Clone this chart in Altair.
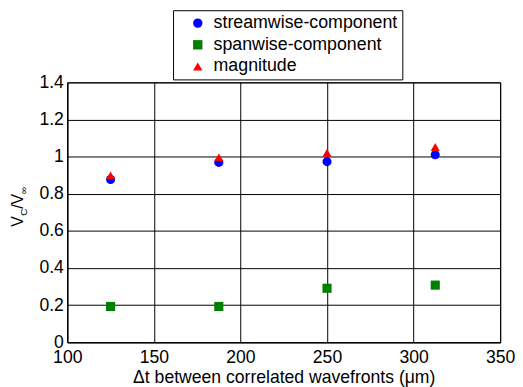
import altair as alt
import pandas as pd

# ---- data ----
series = ["streamwise-component", "spanwise-component", "magnitude"]
colors = ["#0000ff", "#008000", "#ff0000"]
shapes = ["circle", "square", "triangle-up"]
x_vals = [125, 187.5, 250, 312.5]
streamwise = [0.877, 0.969, 0.973, 1.010]
spanwise = [0.193, 0.193, 0.291, 0.308]
magnitude = [0.898, 0.996, 1.021, 1.052]
x_ticks = [100, 150, 200, 250, 300, 350]
y_ticks = [0, 0.2, 0.4, 0.6, 0.8, 1.0, 1.2, 1.4]
x_title = "Δt between correlated wavefronts (μm)"

FONT = "Liberation Sans"
FS = 17.8

rows = []
for name, vals in zip(series, [streamwise, spanwise, magnitude]):
    for xv, yv in zip(x_vals, vals):
        rows.append({"x": xv, "v": yv, "series": name})
df = pd.DataFrame(rows)

legend = alt.Legend(
    title=None, orient="none", legendX=107, legendY=-73,
    padding=4, strokeColor="black", fillColor="white",
    labelFont=FONT, labelFontSize=18, labelColor="black", labelLimit=0,
    symbolSize=90, symbolStrokeWidth=0, symbolOffset=12,
    labelOffset=7, rowPadding=4,
)

points = alt.Chart(df).mark_point(filled=True, size=85, opacity=1).encode(
    x=alt.X("x:Q", scale=alt.Scale(domain=[100, 350], nice=False, zero=False),
            axis=alt.Axis(values=x_ticks, title=x_title, labelFlush=False,
                          labelOverlap=False, labelPadding=6, titlePadding=3)),
    y=alt.Y("v:Q", scale=alt.Scale(domain=[0, 1.4], nice=False),
            axis=alt.Axis(values=y_ticks, format=".1~f", title=None,
                          labelPadding=4, labelOverlap=False, labelFlush=False)),
    color=alt.Color("series:N", scale=alt.Scale(domain=series, range=colors), legend=legend),
    shape=alt.Shape("series:N", scale=alt.Scale(domain=series, range=shapes), legend=legend),
)

one = pd.DataFrame({"a": [0]})


def label(text, x, y, size):
    return alt.Chart(one).mark_text(
        text=text, angle=270, align="left", baseline="alphabetic",
        font=FONT, fontSize=size, color="black",
    ).encode(x=alt.value(x), y=alt.value(y))


ytitle = (
    label("V", -45, 146, 16)
    + label("C", -41, 135, 10)
    + label("/V", -45, 128, 16)
    + label("∞", -41, 113, 10)
)

chart = alt.layer(points, ytitle).properties(
    width=438, height=263,
    autosize=alt.AutoSizeParams(type="none"),
    padding={"left": 60, "top": 73, "right": 15, "bottom": 43},
).configure_view(
    stroke="black", strokeWidth=1
).configure_axis(
    grid=True, gridColor="black", gridOpacity=1, gridWidth=1,
    domainColor="black", domainWidth=1, ticks=False,
    labelFont=FONT, labelFontSize=FS, labelColor="black",
    titleFont=FONT, titleFontSize=FS, titleColor="black", titleFontWeight="normal",
)

chart.save("out.html", embed_options={"renderer": "svg", "actions": False})
